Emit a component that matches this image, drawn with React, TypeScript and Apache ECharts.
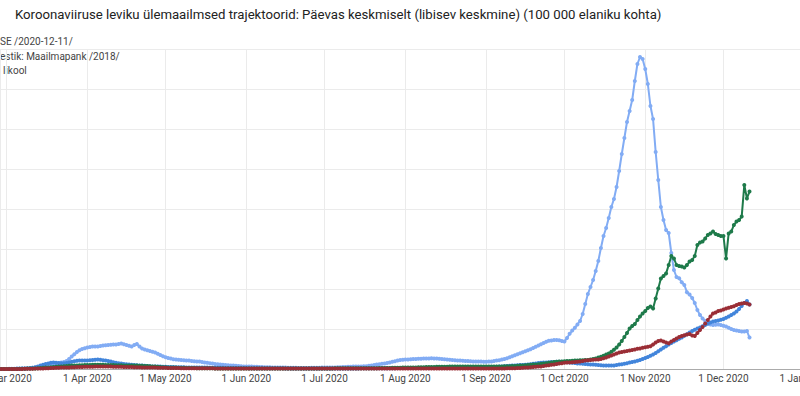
import React, { useEffect, useRef } from "react";
import * as echarts from "echarts";

// ---- Data (daily values per 100 000 inhabitants, day index from 2020-01-01) ----
const START_DAY = 50; // 2020-02-20
const MONTH_NAMES = ["Jan", "Feb", "Mar", "Apr", "May", "Jun", "Jul", "Aug", "Sep", "Oct", "Nov", "Dec"];
const TITLE = "Koroonaviiruse leviku ülemaailmsed trajektoorid: Päevas keskmiselt (libisev keskmine) (100 000 elaniku kohta)";
const SOURCE_LINES = ["SE /2020-12-11/", "estik: Maailmapank /2018/", "likool"];

const lightBlue = [
  0, 0, 0, 0, 0, 0, 0, 0, 0, 0,
  0, 0.1, 0.1, 0.1, 0.2, 0.2, 0.3, 0.3, 0.4, 0.5,
  0.6, 0.8, 1.0, 1.2, 1.4, 1.6, 1.8, 2.0, 2.3, 2.6,
  2.9, 3.2, 3.5, 4.0, 5.0, 6.2, 7.4, 8.5, 9.4, 10.0,
  10.4, 10.8, 11.0, 11.2, 11.3, 11.2, 11.5, 11.8, 11.9, 12.0,
  12.1, 12.3, 12.2, 12.5, 12.8, 12.4, 12.0, 11.6, 11.2, 12.0,
  12.5, 11.2, 10.2, 9.8, 9.4, 9.0, 8.6, 8.2, 7.6, 7.0,
  6.4, 5.9, 5.5, 5.2, 4.9, 4.7, 4.6, 4.5, 4.4, 4.3,
  4.2, 4.0, 3.9, 3.8, 3.7, 3.5, 3.3, 3.1, 2.9, 2.7,
  2.5, 2.4, 2.2, 2.1, 2.0, 1.9, 1.8, 1.7, 1.6, 1.5,
  1.4, 1.3, 1.3, 1.2, 1.2, 1.1, 1.1, 1.0, 1.0, 0.9,
  0.9, 0.9, 0.8, 0.8, 0.8, 0.7, 0.7, 0.7, 0.6, 0.6,
  0.6, 0.6, 0.5, 0.5, 0.5, 0.5, 0.5, 0.6, 0.6, 0.6,
  0.6, 0.7, 0.7, 0.7, 0.8, 0.8, 0.8, 0.9, 0.9, 1.0,
  1.0, 1.1, 1.1, 1.2, 1.2, 1.3, 1.3, 1.4, 1.4, 1.6,
  1.8, 2.0, 2.2, 2.4, 2.6, 2.8, 3.0, 3.3, 3.6, 3.9,
  4.2, 4.5, 4.6, 4.7, 4.8, 4.9, 5.0, 5.0, 5.1, 5.1,
  5.2, 5.3, 5.3, 5.4, 5.3, 5.2, 5.1, 5.0, 4.9, 4.7,
  4.6, 4.5, 4.4, 4.3, 4.2, 4.1, 4.0, 4.0, 3.9, 3.8,
  3.8, 3.7, 3.7, 3.6, 3.6, 3.7, 3.8, 4.0, 4.2, 4.4,
  4.7, 5.0, 5.4, 5.9, 6.4, 6.9, 7.4, 7.9, 8.4, 8.9,
  9.4, 9.9, 10.5, 11.1, 11.8, 12.4, 13.0, 13.6, 14.1, 14.3,
  14.5, 14.5, 14.4, 14.0, 13.7, 15.5, 17.6, 19.2, 20.6, 22.3,
  24.0, 27.5, 32.5, 37.5, 41.0, 44.5, 49.0, 54.0, 60.5, 66.5,
  70.5, 75.5, 81.0, 85.0, 91.0, 99.0, 107.5, 115.5, 123.5, 129.0,
  134.5, 144.0, 152.5, 156.0, 155.0, 150.0, 142.5, 131.5, 125.0, 108.5,
  94.5, 81.0, 74.5, 69.5, 68.0, 58.0, 49.5, 46.0, 45.4, 43.4,
  42.0, 38.4, 37.2, 35.5, 33.0, 29.5, 27.0, 25.3, 24.0, 23.0,
  22.2, 22.0, 22.1, 22.2, 22.0, 21.6, 21.2, 20.6, 20.0, 19.5,
  19.2, 19.0, 18.8, 18.7, 19.0, 15.7,
];

const darkBlue = [
  0, 0, 0, 0, 0, 0, 0, 0, 0, 0,
  0, 0, 0, 0, 0.1, 0.1, 0.2, 0.2, 0.3, 0.4,
  0.6, 0.9, 1.3, 1.7, 2.1, 2.5, 2.8, 3.1, 3.2, 3.1,
  3.0, 2.9, 2.9, 3.0, 3.3, 3.6, 3.9, 4.1, 4.3, 4.3,
  4.2, 4.3, 4.4, 4.5, 4.6, 4.7, 4.6, 4.4, 4.2, 4.0,
  3.7, 3.4, 3.1, 2.9, 2.7, 2.5, 2.4, 2.2, 2.1, 2.0,
  1.9, 1.8, 1.7, 1.6, 1.5, 1.4, 1.3, 1.3, 1.2, 1.2,
  1.1, 1.1, 1.0, 1.0, 1.0, 0.9, 0.9, 0.9, 0.9, 0.8,
  0.8, 0.8, 0.8, 0.7, 0.7, 0.7, 0.7, 0.7, 0.6, 0.6,
  0.6, 0.6, 0.6, 0.6, 0.5, 0.5, 0.5, 0.5, 0.5, 0.5,
  0.5, 0.5, 0.5, 0.4, 0.4, 0.4, 0.4, 0.4, 0.4, 0.4,
  0.4, 0.4, 0.4, 0.4, 0.4, 0.4, 0.4, 0.3, 0.3, 0.3,
  0.3, 0.3, 0.3, 0.3, 0.3, 0.3, 0.3, 0.3, 0.3, 0.3,
  0.3, 0.3, 0.3, 0.3, 0.3, 0.3, 0.3, 0.3, 0.3, 0.3,
  0.3, 0.3, 0.3, 0.3, 0.3, 0.3, 0.4, 0.4, 0.4, 0.4,
  0.4, 0.4, 0.4, 0.4, 0.4, 0.4, 0.4, 0.4, 0.4, 0.4,
  0.5, 0.5, 0.5, 0.5, 0.5, 0.5, 0.5, 0.5, 0.5, 0.5,
  0.5, 0.5, 0.5, 0.5, 0.5, 0.6, 0.6, 0.6, 0.6, 0.6,
  0.6, 0.6, 0.6, 0.6, 0.6, 0.6, 0.6, 0.7, 0.7, 0.7,
  0.7, 0.7, 0.8, 0.8, 0.9, 0.9, 1.0, 1.0, 1.1, 1.2,
  1.3, 1.4, 1.5, 1.6, 1.7, 1.8, 1.9, 2.0, 2.0, 2.1,
  2.2, 2.4, 2.6, 2.8, 3.0, 3.1, 3.2, 3.3, 3.4, 3.5,
  3.5, 3.6, 3.6, 3.6, 3.5, 3.4, 3.2, 3.1, 3.0, 2.8,
  2.7, 2.6, 2.5, 2.4, 2.3, 2.2, 2.1, 2.0, 1.9, 1.8,
  1.8, 1.7, 1.7, 1.8, 2.0, 2.2, 2.4, 2.6, 2.9, 3.2,
  3.5, 3.8, 4.1, 4.5, 5.0, 5.5, 6.0, 6.6, 7.3, 8.0,
  8.9, 9.8, 10.6, 11.4, 12.2, 13.0, 13.7, 14.4, 15.1, 15.8,
  16.6, 17.4, 18.2, 19.0, 19.6, 20.2, 20.8, 21.4, 22.0, 22.6,
  23.2, 23.7, 24.0, 24.3, 24.6, 25.0, 25.6, 26.3, 27.0, 27.8,
  28.8, 30.0, 31.5, 33.0, 34.0, 32.3,
];

const green = [
  0, 0, 0, 0, 0, 0, 0, 0, 0, 0,
  0, 0, 0, 0, 0, 0.1, 0.1, 0.1, 0.2, 0.2,
  0.3, 0.3, 0.4, 0.5, 0.6, 0.7, 0.8, 0.9, 1.0, 1.1,
  1.2, 1.3, 1.4, 1.5, 1.6, 1.7, 1.8, 1.8, 1.9, 1.9,
  2.0, 2.0, 2.0, 2.1, 2.1, 2.1, 2.1, 2.1, 2.0, 2.0,
  2.0, 2.0, 1.9, 1.9, 1.9, 1.8, 1.8, 1.8, 1.7, 1.7,
  1.7, 1.6, 1.6, 1.5, 1.5, 1.4, 1.3, 1.2, 1.1, 1.0,
  0.9, 0.9, 0.8, 0.8, 0.7, 0.7, 0.6, 0.6, 0.6, 0.5,
  0.5, 0.5, 0.5, 0.4, 0.4, 0.4, 0.4, 0.4, 0.4, 0.4,
  0.3, 0.3, 0.3, 0.3, 0.3, 0.3, 0.3, 0.3, 0.3, 0.3,
  0.3, 0.3, 0.3, 0.3, 0.3, 0.3, 0.3, 0.3, 0.3, 0.3,
  0.3, 0.3, 0.3, 0.3, 0.3, 0.3, 0.3, 0.3, 0.3, 0.3,
  0.3, 0.3, 0.3, 0.3, 0.3, 0.3, 0.3, 0.3, 0.3, 0.3,
  0.3, 0.3, 0.3, 0.3, 0.3, 0.3, 0.4, 0.4, 0.4, 0.4,
  0.4, 0.4, 0.4, 0.4, 0.4, 0.4, 0.4, 0.4, 0.4, 0.4,
  0.4, 0.4, 0.4, 0.5, 0.5, 0.5, 0.5, 0.5, 0.6, 0.6,
  0.6, 0.6, 0.7, 0.7, 0.7, 0.8, 0.8, 0.8, 0.9, 0.9,
  0.9, 1.0, 1.0, 1.0, 1.0, 1.1, 1.1, 1.1, 1.1, 1.1,
  1.2, 1.2, 1.2, 1.2, 1.2, 1.2, 1.2, 1.2, 1.2, 1.2,
  1.2, 1.2, 1.2, 1.2, 1.2, 1.2, 1.2, 1.3, 1.3, 1.3,
  1.3, 1.4, 1.4, 1.4, 1.5, 1.5, 1.6, 1.7, 1.8, 1.9,
  2.0, 2.1, 2.2, 2.3, 2.4, 2.6, 2.7, 2.9, 3.1, 3.3,
  3.5, 3.6, 3.7, 3.8, 3.9, 4.0, 4.0, 4.1, 4.2, 4.3,
  4.4, 4.4, 4.5, 4.5, 4.7, 5.0, 5.3, 5.7, 6.1, 6.6,
  7.2, 7.8, 8.6, 9.6, 10.8, 12.2, 14.0, 16.0, 18.0, 20.2,
  21.5, 22.5, 24.5, 26.2, 27.8, 29.0, 30.5, 31.2, 30.3, 35.3,
  40.3, 45.3, 46.5, 47.8, 52.0, 56.5, 55.3, 52.0, 51.5, 51.2,
  50.7, 52.0, 53.7, 54.5, 56.5, 62.0, 63.2, 63.7, 65.3, 67.0,
  67.8, 68.7, 67.5, 67.0, 66.5, 66.5, 55.3, 67.8, 68.7, 72.0,
  73.7, 74.5, 76.2, 92.0, 85.3, 88.7,
];

const darkRed = [
  0, 0, 0, 0, 0, 0, 0, 0, 0, 0,
  0, 0, 0, 0, 0, 0, 0, 0.1, 0.1, 0.1,
  0.1, 0.2, 0.2, 0.3, 0.3, 0.4, 0.4, 0.5, 0.5, 0.6,
  0.6, 0.7, 0.7, 0.8, 0.8, 0.9, 0.9, 1.0, 1.0, 1.0,
  1.1, 1.1, 1.1, 1.1, 1.2, 1.2, 1.2, 1.2, 1.2, 1.2,
  1.2, 1.1, 1.1, 1.1, 1.1, 1.0, 1.0, 1.0, 1.0, 0.9,
  0.9, 0.9, 0.8, 0.8, 0.8, 0.7, 0.7, 0.7, 0.6, 0.6,
  0.6, 0.6, 0.5, 0.5, 0.5, 0.5, 0.5, 0.4, 0.4, 0.4,
  0.4, 0.4, 0.4, 0.4, 0.4, 0.4, 0.4, 0.4, 0.4, 0.4,
  0.3, 0.3, 0.3, 0.3, 0.3, 0.3, 0.3, 0.3, 0.3, 0.3,
  0.3, 0.3, 0.3, 0.3, 0.3, 0.3, 0.3, 0.3, 0.3, 0.3,
  0.3, 0.3, 0.3, 0.3, 0.3, 0.3, 0.3, 0.3, 0.3, 0.3,
  0.3, 0.3, 0.3, 0.3, 0.3, 0.3, 0.3, 0.3, 0.3, 0.3,
  0.3, 0.3, 0.3, 0.3, 0.3, 0.3, 0.3, 0.3, 0.3, 0.3,
  0.3, 0.3, 0.3, 0.3, 0.3, 0.3, 0.3, 0.3, 0.3, 0.3,
  0.3, 0.3, 0.3, 0.3, 0.3, 0.3, 0.3, 0.3, 0.3, 0.3,
  0.3, 0.3, 0.3, 0.3, 0.3, 0.3, 0.3, 0.3, 0.3, 0.3,
  0.3, 0.3, 0.3, 0.3, 0.3, 0.3, 0.3, 0.3, 0.3, 0.3,
  0.3, 0.3, 0.3, 0.3, 0.3, 0.3, 0.3, 0.3, 0.3, 0.3,
  0.3, 0.3, 0.3, 0.3, 0.3, 0.3, 0.3, 0.3, 0.3, 0.3,
  0.3, 0.3, 0.4, 0.4, 0.4, 0.4, 0.5, 0.5, 0.6, 0.7,
  0.8, 0.9, 1.0, 1.1, 1.2, 1.3, 1.5, 1.7, 1.9, 2.1,
  2.3, 2.5, 2.7, 2.9, 3.1, 3.2, 3.3, 3.4, 3.5, 3.6,
  3.8, 4.0, 4.2, 4.4, 4.5, 4.6, 4.7, 4.8, 5.0, 5.4,
  5.8, 6.2, 6.8, 7.3, 7.8, 8.2, 8.5, 8.7, 9.0, 9.2,
  9.5, 9.8, 10.1, 10.3, 10.6, 10.9, 11.1, 11.4, 12.2, 13.2,
  14.0, 14.2, 13.8, 13.2, 12.9, 13.8, 14.5, 15.2, 16.0, 16.5,
  16.9, 17.2, 17.5, 16.8, 16.5, 18.0, 19.5, 21.0, 22.8, 24.5,
  26.2, 27.8, 28.3, 29.0, 29.3, 29.7, 30.2, 30.6, 31.0, 31.4,
  32.0, 32.5, 32.8, 33.0, 32.8, 32.3,
];

const SERIES = [
  { name: "s1", data: lightBlue, color: "#82acf4" },
  { name: "s2", data: darkBlue, color: "#4285db" },
  { name: "s3", data: green, color: "#1e7a4a" },
  { name: "s4", data: darkRed, color: "#9a2e36" },
];

const DAY_MS = 86400000;
const BASE = Date.UTC(2020, 0, 1);
const dayToMs = (d: number) => BASE + d * DAY_MS;

function fmtDate(v: number) {
  const d = new Date(v);
  return `${d.getUTCDate()} ${MONTH_NAMES[d.getUTCMonth()]} ${d.getUTCFullYear()}`;
}

export default function App() {
  const ref = useRef<HTMLDivElement>(null);
  useEffect(() => {
    if (!ref.current) return;
    const chart = echarts.init(ref.current, null, { renderer: "svg" });
    const font = "Roboto";
    chart.setOption({
      animation: false,
      useUTC: true,
      backgroundColor: "#ffffff",
      grid: {
        left: 0,
        right: -10,
        top: 49,
        bottom: 27,
        containLabel: false,
        outerBoundsMode: "none",
      },
      xAxis: {
        type: "time",
        min: dayToMs(57.5),
        max: dayToMs(368.2),
        splitNumber: 10,
        minInterval: 28 * DAY_MS,
        maxInterval: 31 * DAY_MS,
        axisLine: { show: true, lineStyle: { color: "#ababab", width: 1 } },
        axisTick: { show: false },
        axisLabel: {
          formatter: (v: number) => fmtDate(v),
          fontSize: 10,
          fontFamily: font,
          color: "#444444",
          margin: 4,
        },
        splitLine: { show: true, lineStyle: { color: "#ebebeb", width: 1 } },
      },
      yAxis: {
        type: "value",
        min: 0,
        max: 160,
        interval: 20,
        axisLabel: { show: false },
        axisLine: { show: false },
        axisTick: { show: false },
        splitLine: { show: true, lineStyle: { color: "#ebebeb", width: 1 } },
      },
      graphic: [
        {
          type: "text",
          x: 15,
          y: 14,
          style: {
            text: TITLE,
            fontSize: 13.2,
            fontFamily: font,
            fill: "#222222",
            textVerticalAlign: "middle",
          },
        },
        ...SOURCE_LINES.map((t, i) => ({
          type: "text",
          x: i === 2 ? 3 : 0,
          y: 41.5 + i * 14.7,
          style: {
            text: t,
            fontSize: 10,
            fontFamily: font,
            fill: "#444444",
            textVerticalAlign: "middle",
          },
        })),
      ],
      series: SERIES.map((s) => ({
        name: s.name,
        type: "line",
        data: s.data.map((v, i) => [dayToMs(START_DAY + i), v]),
        symbol: "circle",
        symbolSize: 4,
        showSymbol: true,
        color: s.color,
        lineStyle: { width: 2, color: s.color },
        itemStyle: { color: s.color },
        emphasis: { disabled: true },
        clip: true,
      })),
    });
    return () => chart.dispose();
  }, []);
  return (
    <div
      ref={ref}
      style={{ position: "fixed", left: 0, top: 0, width: 800, height: 396 }}
    />
  );
}
